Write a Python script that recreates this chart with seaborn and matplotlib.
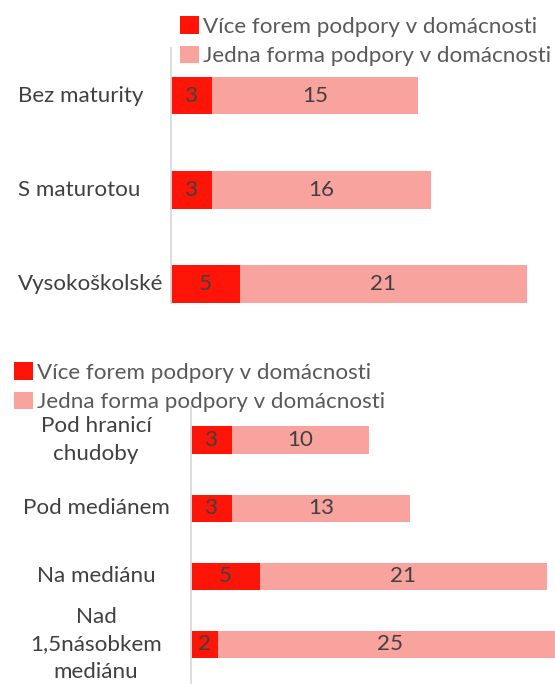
import matplotlib
matplotlib.use("Agg")
import matplotlib.pyplot as plt
import matplotlib.transforms as mtransforms
from matplotlib.patches import Patch
import seaborn as sns
import pandas as pd

# ---------------- data ----------------
edu_categories = ["Bez maturity", "S maturotou", "Vysokoškolské"]
edu_multi = [3, 3, 5]
edu_single = [15, 16, 21]

inc_categories = ["Pod hranicí\nchudoby", "Pod mediánem", "Na mediánu", "Nad\n1,5násobkem\nmediánu"]
inc_multi = [3, 3, 5, 2]
inc_single = [10, 13, 21, 25]

series_labels = ["Více forem podpory v domácnosti", "Jedna forma podpory v domácnosti"]

# ---------------- style ----------------
sns.set_theme(style="white")
plt.rcParams["font.family"] = ["Lato", "DejaVu Sans"]

RED = "#FF1408"
PINK = "#F9A39F"
AXIS_GRAY = "#D9D9D9"
TEXT = "#404040"
LEG_TEXT = "#595959"
FS = 16.1

W, H = 555, 684
fig = plt.figure(figsize=(W / 100, H / 100), dpi=100)


def add_axes_px(left, top, width, height):
    return fig.add_axes([left / W, 1 - (top + height) / H, width / W, height / H])


def draw_panel(ax, cats, multi, single, ylim, xlim, label_x, label_ha, legend_xy):
    totals = [m + s for m, s in zip(multi, single)]
    df = pd.DataFrame({"cat": cats, "multi": multi, "single": single, "total": totals})
    sns.barplot(data=df, x="total", y="cat", orient="h", color=PINK, width=0.4,
                saturation=1, errorbar=None, linewidth=0, ax=ax)
    sns.barplot(data=df, x="multi", y="cat", orient="h", color=RED, width=0.4,
                saturation=1, errorbar=None, linewidth=0, ax=ax)
    ax.set_xlim(*xlim)
    ax.set_ylim(*ylim)
    ax.set_xlabel("")
    ax.set_ylabel("")
    ax.set_xticks([])
    ax.set_yticks([])
    sns.despine(ax=ax, left=False, bottom=True, top=True, right=True)
    ax.spines["left"].set_color(AXIS_GRAY)
    ax.spines["left"].set_linewidth(1.3)
    ax.patch.set_alpha(0)

    for i, (m, s) in enumerate(zip(multi, single)):
        ax.text(m / 2, i, str(m), ha="center", va="center", color=TEXT, fontsize=FS)
        ax.text(m + s / 2, i, str(s), ha="center", va="center", color=TEXT, fontsize=FS)

    trans = mtransforms.blended_transform_factory(fig.transFigure, ax.transData)
    for i, c in enumerate(cats):
        ax.text(label_x / W, i, c, transform=trans, ha=label_ha, va="center",
                color=TEXT, fontsize=FS, linespacing=1.48, multialignment="center")

    handles = [Patch(facecolor=RED, edgecolor="none"), Patch(facecolor=PINK, edgecolor="none")]
    lx, ly = legend_xy
    fig.legend(handles, series_labels, loc="upper left",
               bbox_to_anchor=(lx / W, 1 - ly / H), bbox_transform=fig.transFigure,
               frameon=False, fontsize=FS, borderpad=0, borderaxespad=0,
               handlelength=0.85, handleheight=0.85, handletextpad=0.2,
               labelspacing=0.4, labelcolor=LEG_TEXT)


# top panel: education
ax1 = add_axes_px(171, 48, W - 171, 255)
draw_panel(ax1, edu_categories, edu_multi, edu_single,
           ylim=(2.2, -0.504), xlim=(0, (W - 171) / 13.7),
           label_x=18, label_ha="left", legend_xy=(180, 16))

# bottom panel: income
ax2 = add_axes_px(191, 407, W - 191, H - 407)
draw_panel(ax2, inc_categories, inc_multi, inc_single,
           ylim=(3.58, -0.484), xlim=(0, (W - 191) / 13.7),
           label_x=96, label_ha="center", legend_xy=(14, 362))

fig.savefig("out.png", dpi=100)
